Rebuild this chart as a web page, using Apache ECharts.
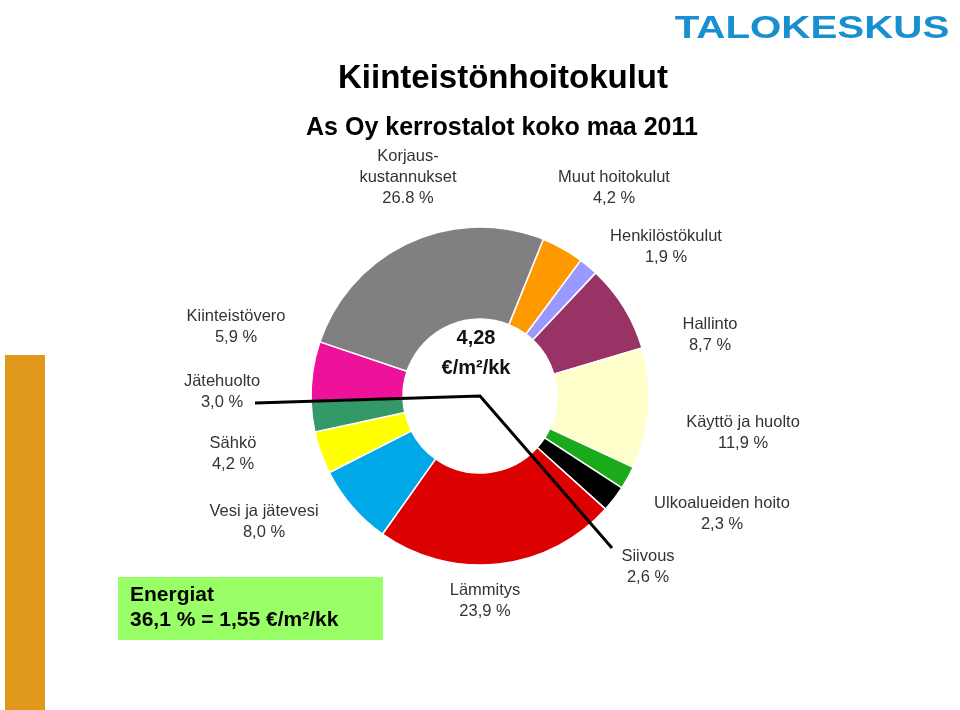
<!DOCTYPE html>
<html>
<head>
<meta charset="utf-8">
<title>Kiinteistönhoitokulut</title>
<script src="https://cdn.jsdelivr.net/npm/echarts@6/dist/echarts.min.js"></script>
<style>
  html, body, #main { width: 100%; height: 100%; margin: 0; padding: 0; background: #fff; }
</style>
</head>
<body>
<div id="main"></div>
<script>
var names = ['Muut hoitokulut', 'Henkilöstökulut', 'Hallinto', 'Käyttö ja huolto', 'Ulkoalueiden hoito',
  'Siivous', 'Lämmitys', 'Vesi ja jätevesi', 'Sähkö', 'Jätehuolto', 'Kiinteistövero', 'Korjaus-\nkustannukset'];
var values = [4.2, 1.9, 8.7, 11.9, 2.3, 2.6, 23.9, 8.0, 4.2, 3.0, 5.9, 26.8];
var valueLabels = ['4,2 %', '1,9 %', '8,7 %', '11,9 %', '2,3 %', '2,6 %', '23,9 %', '8,0 %', '4,2 %', '3,0 %', '5,9 %', '26.8 %'];
var colors = ['#ff9900', '#9999ff', '#993366', '#ffffcc', '#1aaa1a', '#000000', '#dd0000', '#00a8e8',
  '#ffff00', '#339966', '#ee1199', '#808080'];
// label centres around the ring
var labelPos = [[614, 188], [666, 247], [710, 335], [743, 433], [722, 514], [648, 567],
  [485, 601], [264, 522], [233, 454], [222, 392], [236, 327], [408, 177]];

var chart = echarts.init(document.getElementById('main'));
var font = '"Liberation Sans", Arial, sans-serif';

chart.setOption({
  animation: false,
  title: [
    { text: 'Kiinteistönhoitokulut', left: 498, top: 57, textAlign: 'center',
      textStyle: { fontFamily: font, fontSize: 33, fontWeight: 'bold', color: '#000' } },
    { text: 'As Oy kerrostalot koko maa 2011', left: 497, top: 111, textAlign: 'center',
      textStyle: { fontFamily: font, fontSize: 25, fontWeight: 'bold', color: '#000' } }
  ],
  series: [{
    type: 'pie',
    center: [480, 396],
    radius: [77, 169],
    startAngle: 68,
    clockwise: true,
    silent: true,
    itemStyle: { borderColor: '#fff', borderWidth: 1.5 },
    label: {
      show: true,
      position: 'outside',
      formatter: function (p) { return p.name + '\n' + valueLabels[p.dataIndex]; },
      fontFamily: font, fontSize: 16.5, lineHeight: 21, color: '#333', align: 'center'
    },
    labelLine: { show: false },
    labelLayout: function (p) {
      var pos = labelPos[p.dataIndex];
      return { x: pos[0], y: pos[1], align: 'center', verticalAlign: 'middle' };
    },
    data: values.map(function (v, i) {
      return { name: names[i], value: v, itemStyle: { color: colors[i] } };
    })
  }],
  graphic: [
    { type: 'rect', z: 100, shape: { x: 5, y: 355, width: 40, height: 355 }, style: { fill: '#e0981a' } },
    { type: 'text', z: 100, x: 812, y: 14, style: { text: 'TALOKESKUS', fill: '#1a8fd0', font: 'bold 31px ' + font, align: 'center' }, scaleX: 1.3 },
    { type: 'text', z: 100, x: 476, y: 353, style: { text: '4,28\n€/m²/kk', fill: '#111', font: 'bold 20px ' + font, align: 'center', verticalAlign: 'middle', lineHeight: 30 } },
    { type: 'polyline', z: 100, shape: { points: [[255, 403], [480, 396], [612, 548]] }, style: { stroke: '#000', lineWidth: 3, fill: null } },
    { type: 'rect', z: 100, shape: { x: 118, y: 577, width: 265, height: 63 }, style: { fill: '#99ff66' } },
    { type: 'text', z: 101, x: 130, y: 583, style: { text: 'Energiat\n36,1 % = 1,55 €/m²/kk', fill: '#000', font: 'bold 21px ' + font, lineHeight: 25 } }
  ]
});
</script>
</body>
</html>
